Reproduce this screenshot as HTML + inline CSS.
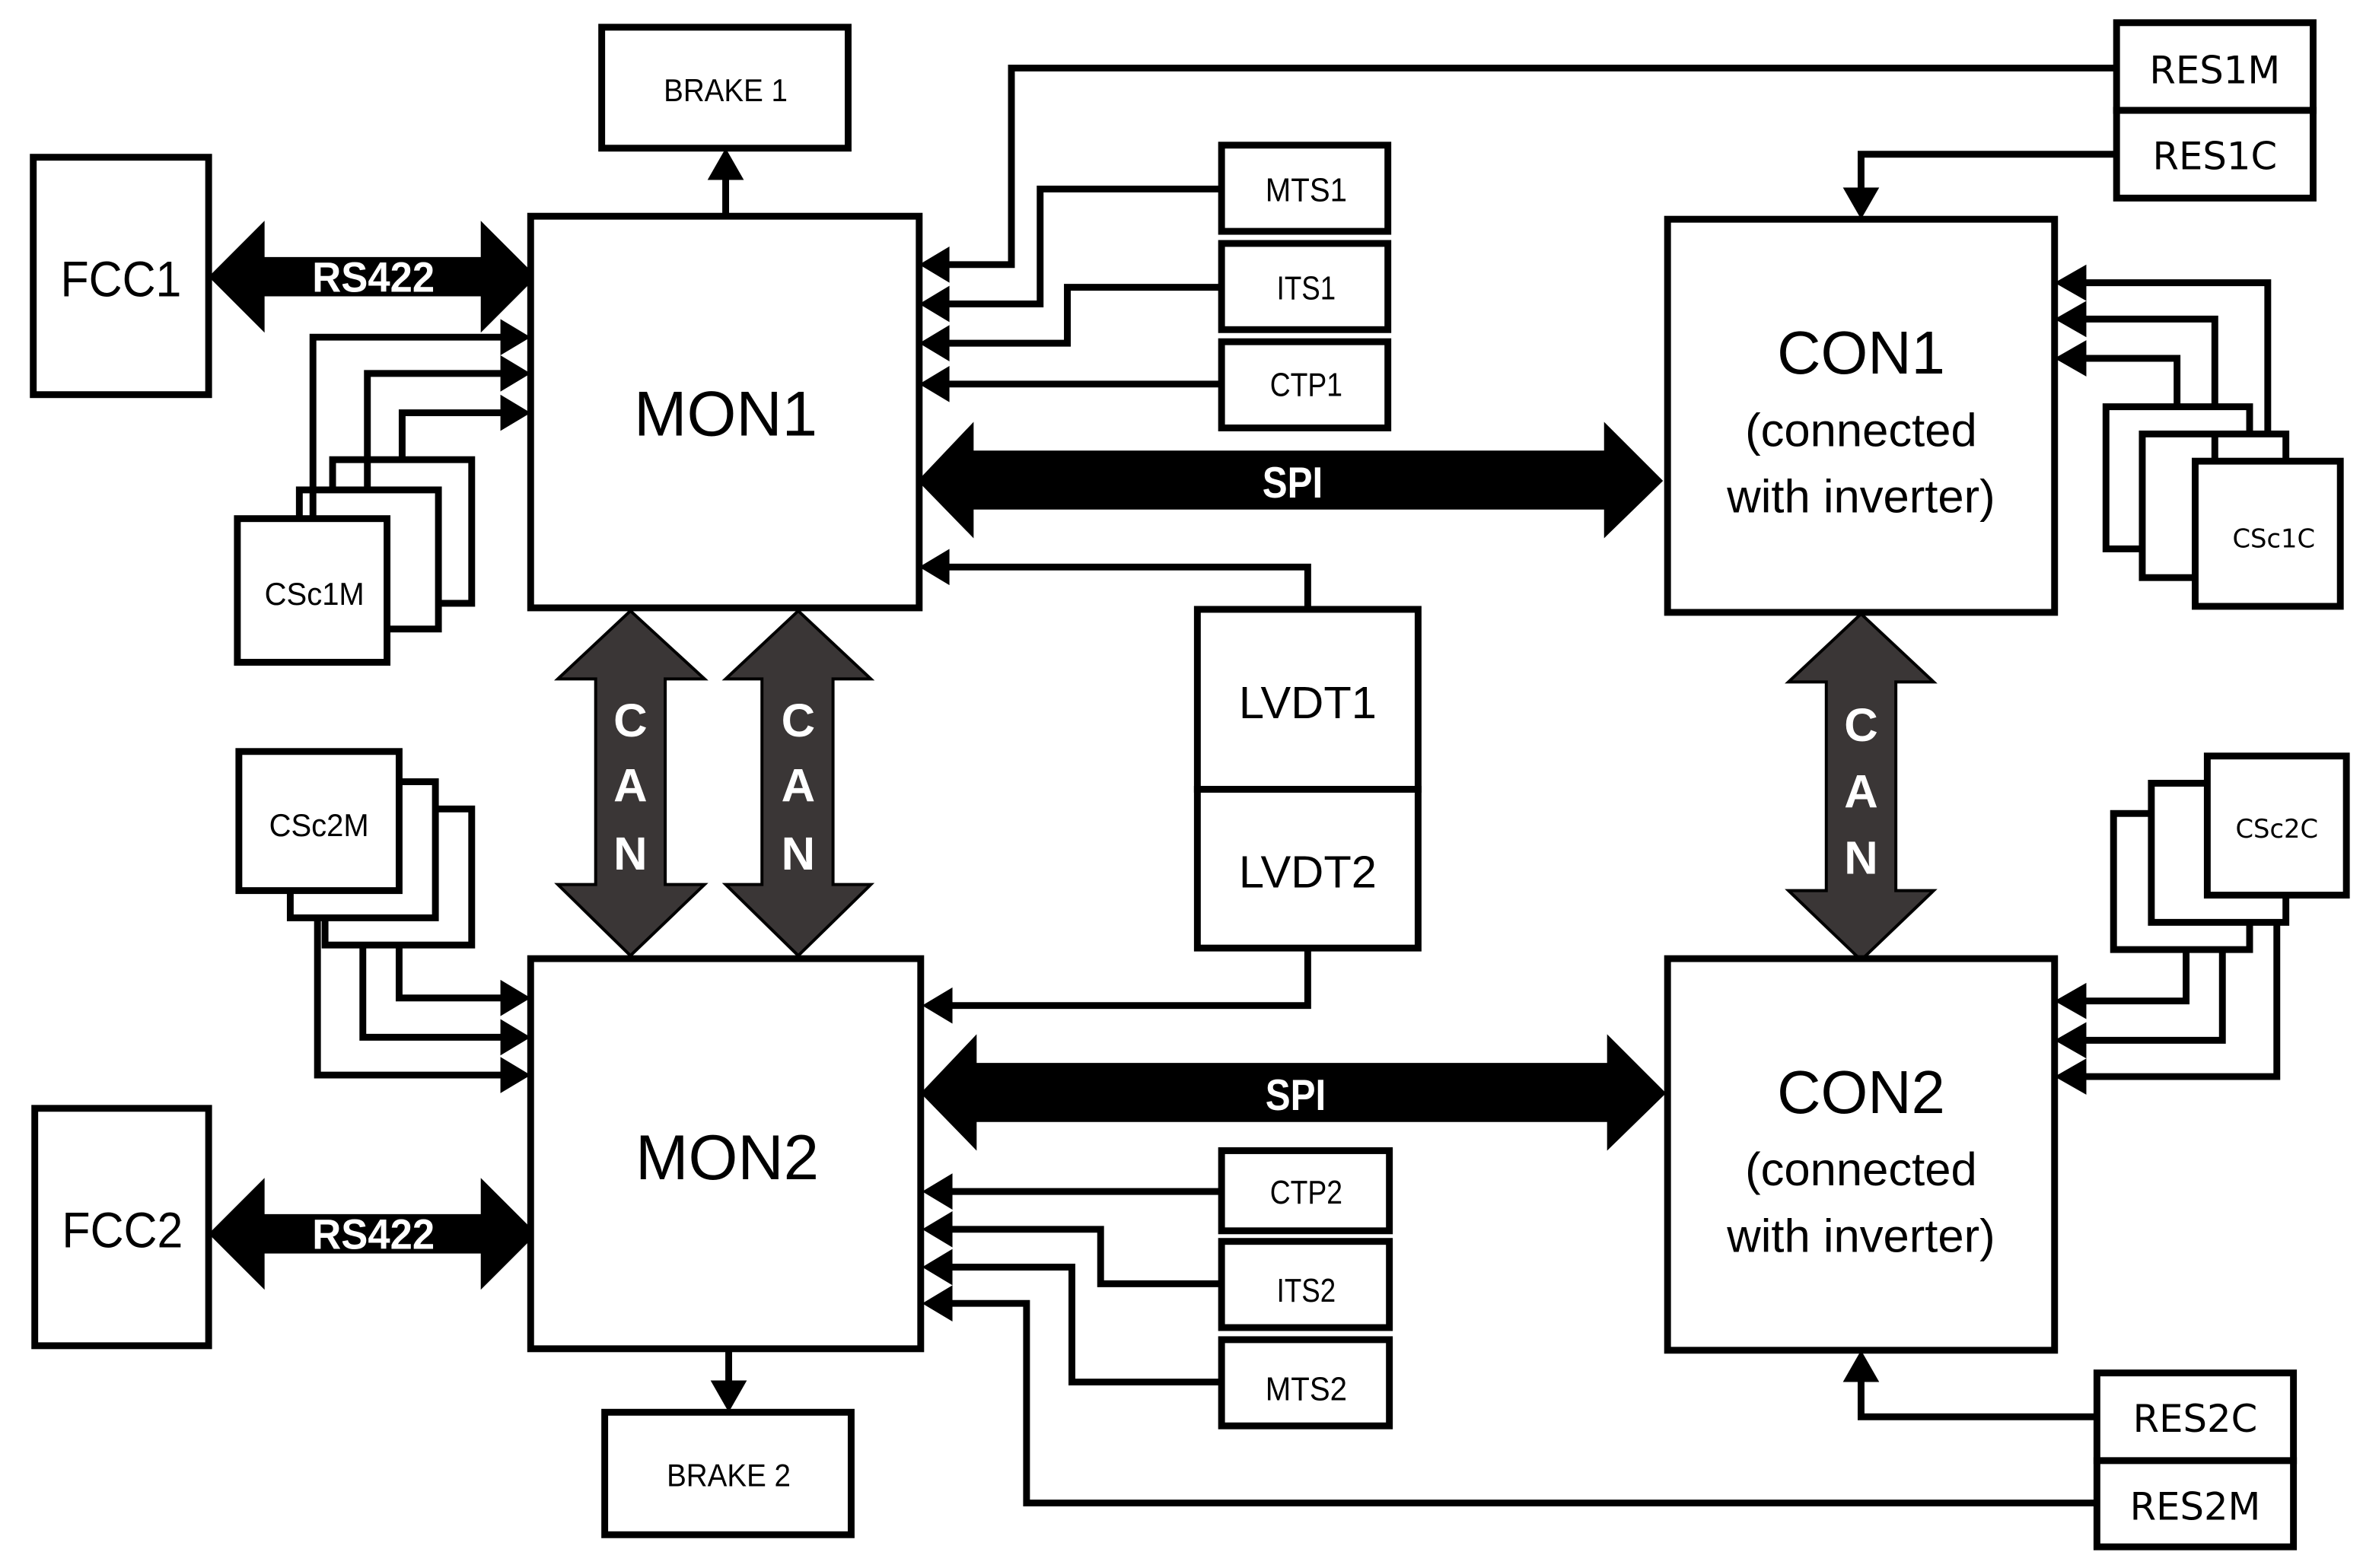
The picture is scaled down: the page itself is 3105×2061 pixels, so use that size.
<!DOCTYPE html>
<html><head><meta charset="utf-8"><style>
html,body{margin:0;padding:0;background:#fff;}
svg{display:block;}
.n{font-family:"Liberation Sans Narrow","Liberation Sans",sans-serif;}
.s{font-family:"Liberation Sans",sans-serif;}
.d{font-family:"DejaVu Sans",sans-serif;}
</style></head><body>
<svg width="3105" height="2061" viewBox="0 0 1563 1037" preserveAspectRatio="none" xmlns="http://www.w3.org/2000/svg">
<g fill="none" stroke="#000" stroke-width="4.5">
<polyline points="1400,45 669,45 669,175 620,175"/>
<polyline points="1400,102 1231,102 1231,130"/>
<polyline points="810,125 688,125 688,201 620,201"/>
<polyline points="810,190 706,190 706,227 620,227"/>
<polyline points="810,254 620,254"/>
<polyline points="865,403 865,375 620,375"/>
<polyline points="865,627 865,665 620,665"/>
<polyline points="480,143 480,112"/>
<polyline points="482,893 482,920"/>
<polyline points="810,788 620,788"/>
<polyline points="810,849 728,849 728,813 620,813"/>
<polyline points="810,914 709,914 709,838 620,838"/>
<polyline points="1387,994 679,994 679,862 620,862"/>
<polyline points="1387,937 1231,937 1231,908"/>
<polyline points="266,304 266,273 338,273"/>
<polyline points="243,324 243,247 338,247"/>
<polyline points="207,343 207,223 338,223"/>
<polyline points="264,625 264,660 338,660"/>
<polyline points="240,607 240,686 338,686"/>
<polyline points="210,589 210,711 338,711"/>
<polyline points="1440,269 1440,237 1372,237"/>
<polyline points="1465,287 1465,211 1372,211"/>
<polyline points="1500,305 1500,187 1372,187"/>
<polyline points="1446,628 1446,662 1372,662"/>
<polyline points="1470,610 1470,688 1372,688"/>
<polyline points="1506,592 1506,712 1372,712"/>
</g>
<g fill="#000">
<polygon points="608,175 628,163 628,187"/>
<polygon points="608,201 628,189 628,213"/>
<polygon points="608,227 628,215 628,239"/>
<polygon points="608,254 628,242 628,266"/>
<polygon points="608,375 628,363 628,387"/>
<polygon points="610,665 630,653 630,677"/>
<polygon points="610,788 630,776 630,800"/>
<polygon points="610,813 630,801 630,825"/>
<polygon points="610,838 630,826 630,850"/>
<polygon points="610,862 630,850 630,874"/>
<polygon points="351,223 331,211 331,235"/>
<polygon points="351,247 331,235 331,259"/>
<polygon points="351,273 331,261 331,285"/>
<polygon points="351,660 331,648 331,672"/>
<polygon points="351,686 331,674 331,698"/>
<polygon points="351,711 331,699 331,723"/>
<polygon points="1359,187 1380,175 1380,199"/>
<polygon points="1359,211 1380,199 1380,223"/>
<polygon points="1359,237 1380,225 1380,249"/>
<polygon points="1359,662 1380,650 1380,674"/>
<polygon points="1359,688 1380,676 1380,700"/>
<polygon points="1359,712 1380,700 1380,724"/>
<polygon points="1231,145 1219,124 1243,124"/>
<polygon points="1231,893 1219,914 1243,914"/>
<polygon points="480,98 468,119 492,119"/>
<polygon points="482,934 470,913 494,913"/>
<polygon points="138,183 175,146 175,170 318,170 318,146 355,183 318,220 318,196 175,196 175,220"/>
<polygon points="138,816 175,779 175,803 318,803 318,779 355,816 318,853 318,829 175,829 175,853"/>
<polygon points="607,318 644,279 644,298 1061,298 1061,279 1100,318 1061,356 1061,337 644,337 644,356"/>
<polygon points="609,723 646,684 646,703 1063,703 1063,684 1102,723 1063,761 1063,742 646,742 646,761"/>
</g>
<g fill="#3a3636" stroke="#000" stroke-width="2">
<polygon points="417,404 466,449 440,449 440,585 466,585 417,632 369,585 394,585 394,449 369,449"/>
<polygon points="528,404 576,449 551,449 551,585 576,585 528,632 480,585 504,585 504,449 480,449"/>
<polygon points="1231,406 1279,451 1254,451 1254,589 1279,589 1231,635 1183,589 1208,589 1208,451 1183,451"/>
</g>
<g fill="#fff" stroke="#000" stroke-width="4.5">
<rect x="398" y="18" width="163" height="80"/>
<rect x="22" y="104" width="116" height="157"/>
<rect x="351" y="143" width="257" height="259"/>
<rect x="1103" y="145" width="256" height="260"/>
<rect x="1400" y="15" width="130" height="58"/>
<rect x="1400" y="73" width="130" height="58"/>
<rect x="808" y="96" width="110" height="57"/>
<rect x="808" y="161" width="110" height="57"/>
<rect x="808" y="226" width="110" height="57"/>
<rect x="792" y="403" width="146" height="119"/>
<rect x="792" y="522" width="146" height="105"/>
<rect x="351" y="634" width="258" height="258"/>
<rect x="1103" y="634" width="256" height="259"/>
<rect x="23" y="733" width="115" height="157"/>
<rect x="400" y="934" width="163" height="81"/>
<rect x="808" y="761" width="111" height="53"/>
<rect x="808" y="821" width="111" height="57"/>
<rect x="808" y="886" width="111" height="57"/>
<rect x="1387" y="908" width="130" height="58"/>
<rect x="1387" y="966" width="130" height="57"/>
<rect x="220" y="304" width="92" height="95"/>
<rect x="198" y="324" width="92" height="92"/>
<rect x="157" y="343" width="99" height="95"/>
<rect x="215" y="535" width="97" height="90"/>
<rect x="192" y="517" width="96" height="90"/>
<rect x="158" y="497" width="106" height="92"/>
<rect x="1393" y="269" width="95" height="94"/>
<rect x="1417" y="287" width="95" height="95"/>
<rect x="1452" y="305" width="96" height="96"/>
<rect x="1398" y="538" width="90" height="90"/>
<rect x="1423" y="518" width="89" height="92"/>
<rect x="1460" y="500" width="92" height="92"/>
</g>
<g stroke="#000" stroke-width="4.5">
<line x1="207" y1="324" x2="207" y2="343"/>
<line x1="243" y1="304" x2="243" y2="324"/>
<line x1="1465" y1="287" x2="1465" y2="305"/>
</g>
<g text-anchor="middle" fill="#000">
<text class="n" x="480" y="67" font-size="21" textLength="82" lengthAdjust="spacingAndGlyphs">BRAKE 1</text>
<text class="n" x="482" y="983" font-size="21" textLength="82" lengthAdjust="spacingAndGlyphs">BRAKE 2</text>
<text class="s" x="80" y="196" font-size="33" textLength="80" lengthAdjust="spacingAndGlyphs">FCC1</text>
<text class="s" x="81" y="825" font-size="33" textLength="80" lengthAdjust="spacingAndGlyphs">FCC2</text>
<text class="s" x="480" y="288" font-size="42">MON1</text>
<text class="s" x="481" y="780" font-size="42">MON2</text>
<text class="s" x="1231" y="247" font-size="40">CON1</text>
<text class="s" x="1231" y="295" font-size="31">(connected</text>
<text class="s" x="1231" y="339" font-size="31">with inverter)</text>
<text class="s" x="1231" y="736" font-size="40">CON2</text>
<text class="s" x="1231" y="784" font-size="31">(connected</text>
<text class="s" x="1231" y="828" font-size="31">with inverter)</text>
<text class="n" x="864" y="133" font-size="22" textLength="54" lengthAdjust="spacingAndGlyphs">MTS1</text>
<text class="n" x="864" y="198" font-size="22" textLength="39" lengthAdjust="spacingAndGlyphs">ITS1</text>
<text class="n" x="864" y="262" font-size="22" textLength="48" lengthAdjust="spacingAndGlyphs">CTP1</text>
<text class="n" x="864" y="796" font-size="22" textLength="48" lengthAdjust="spacingAndGlyphs">CTP2</text>
<text class="n" x="864" y="861" font-size="22" textLength="39" lengthAdjust="spacingAndGlyphs">ITS2</text>
<text class="n" x="864" y="926" font-size="22" textLength="54" lengthAdjust="spacingAndGlyphs">MTS2</text>
<text class="s" x="865" y="475" font-size="30">LVDT1</text>
<text class="s" x="865" y="587" font-size="30">LVDT2</text>
<text class="d" x="1465" y="55" font-size="25">RES1M</text>
<text class="d" x="1465" y="112" font-size="25">RES1C</text>
<text class="d" x="1452" y="947" font-size="25">RES2C</text>
<text class="d" x="1452" y="1005" font-size="25">RES2M</text>
<text class="n" x="208" y="400" font-size="21" textLength="66" lengthAdjust="spacingAndGlyphs">CSc1M</text>
<text class="n" x="211" y="553" font-size="21" textLength="66" lengthAdjust="spacingAndGlyphs">CSc2M</text>
<text class="d" x="1504" y="362" font-size="17">CSc1C</text>
<text class="d" x="1506" y="554" font-size="17">CSc2C</text>
</g>
<g text-anchor="middle" fill="#fff" font-weight="bold">
<text class="n" x="247" y="193" font-size="28" textLength="81" lengthAdjust="spacingAndGlyphs">RS422</text>
<text class="n" x="247" y="826" font-size="28" textLength="81" lengthAdjust="spacingAndGlyphs">RS422</text>
<text class="n" x="855" y="329" font-size="29" textLength="40" lengthAdjust="spacingAndGlyphs">SPI</text>
<text class="n" x="857" y="734" font-size="29" textLength="40" lengthAdjust="spacingAndGlyphs">SPI</text>
<text class="s" x="417" y="487" font-size="31">C</text>
<text class="s" x="417" y="530" font-size="31">A</text>
<text class="s" x="417" y="575" font-size="31">N</text>
<text class="s" x="528" y="487" font-size="31">C</text>
<text class="s" x="528" y="530" font-size="31">A</text>
<text class="s" x="528" y="575" font-size="31">N</text>
<text class="s" x="1231" y="490" font-size="31">C</text>
<text class="s" x="1231" y="534" font-size="31">A</text>
<text class="s" x="1231" y="578" font-size="31">N</text>
</g>
</svg>
</body></html>
